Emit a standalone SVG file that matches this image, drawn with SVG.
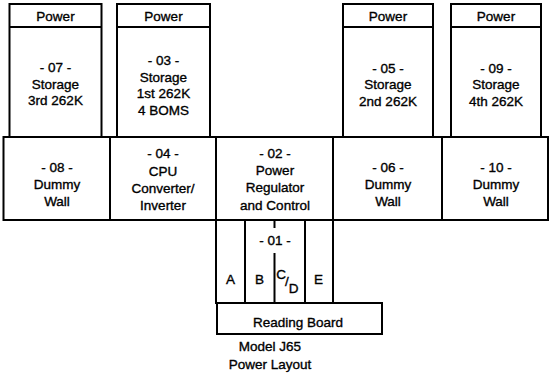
<svg xmlns="http://www.w3.org/2000/svg" width="552" height="377" viewBox="0 0 552 377">
<style>
.b{fill:#fff;stroke:#000;stroke-width:2}
.l{stroke:#000;stroke-width:2;fill:none}
text{font-family:"Liberation Sans",Arial,sans-serif;font-size:13.5px;fill:#000;stroke:#000;stroke-width:0.35;text-anchor:middle}
</style>
<rect width="552" height="377" fill="#fff"/>
<g id="n07">
<rect class="b" x="9.5" y="4" width="92" height="133"/>
<line class="l" x1="9.5" y1="27" x2="101.5" y2="27"/>
<text x="55.5" y="21">Power</text>
<text x="55.5" y="72">- 07 -</text>
<text x="55.5" y="89">Storage</text>
<text x="55.5" y="105">3rd 262K</text>
</g>
<g id="n03">
<rect class="b" x="117" y="4" width="93" height="133"/>
<line class="l" x1="117" y1="27" x2="210" y2="27"/>
<text x="163.5" y="21">Power</text>
<text x="163.5" y="65">- 03 -</text>
<text x="163.5" y="82">Storage</text>
<text x="163.5" y="98">1st 262K</text>
<text x="163.5" y="115">4 BOMS</text>
</g>
<g id="n05">
<rect class="b" x="343" y="4" width="90" height="133"/>
<line class="l" x1="343" y1="27" x2="433" y2="27"/>
<text x="388" y="21">Power</text>
<text x="388" y="73">- 05 -</text>
<text x="388" y="89">Storage</text>
<text x="388" y="106">2nd 262K</text>
</g>
<g id="n09">
<rect class="b" x="451" y="4" width="90" height="133"/>
<line class="l" x1="451" y1="27" x2="541" y2="27"/>
<text x="496" y="21">Power</text>
<text x="496" y="73">- 09 -</text>
<text x="496" y="89">Storage</text>
<text x="496" y="106">4th 262K</text>
</g>
<g id="n08">
<rect class="b" x="3.5" y="137" width="106.5" height="83"/>
<text x="57" y="172">- 08 -</text>
<text x="57" y="189">Dummy</text>
<text x="57" y="206">Wall</text>
</g>
<g id="n04">
<rect class="b" x="110" y="137" width="106" height="83"/>
<text x="163" y="158">- 04 -</text>
<text x="163" y="176">CPU</text>
<text x="163" y="193">Converter/</text>
<text x="163" y="210">Inverter</text>
</g>
<g id="n02">
<rect class="b" x="216" y="137" width="117" height="83"/>
<text x="275" y="158">- 02 -</text>
<text x="275" y="175">Power</text>
<text x="275" y="192">Regulator</text>
<text x="275" y="210">and Control</text>
</g>
<g id="n06">
<rect class="b" x="333" y="137" width="109" height="83"/>
<text x="388" y="172">- 06 -</text>
<text x="388" y="189">Dummy</text>
<text x="388" y="206">Wall</text>
</g>
<g id="n10">
<rect class="b" x="442" y="137" width="106" height="83"/>
<text x="496" y="172">- 10 -</text>
<text x="496" y="189">Dummy</text>
<text x="496" y="206">Wall</text>
</g>
<g id="n01">
<rect class="b" x="216" y="220" width="117" height="83"/>
<line class="l" x1="245" y1="220" x2="245" y2="303"/>
<line class="l" x1="305" y1="220" x2="305" y2="303"/>
<line class="l" x1="274.5" y1="220" x2="274.5" y2="228"/>
<line class="l" x1="274.5" y1="253" x2="274.5" y2="303"/>
<text x="275" y="245">- 01 -</text>
<text x="230.5" y="284">A</text>
<text x="259.5" y="284">B</text>
<text x="281" y="279">C</text>
<text x="287" y="286" font-size="15">/</text>
<text x="293.5" y="293">D</text>
<text x="318.5" y="284">E</text>
</g>
<g id="reading">
<rect class="b" x="217" y="303" width="165" height="31"/>
<text x="298" y="327">Reading Board</text>
</g>
<g id="caption">
<text x="270" y="351">Model J65</text>
<text x="270" y="369">Power Layout</text>
</g>
<g id="connectors"></g>
</svg>
